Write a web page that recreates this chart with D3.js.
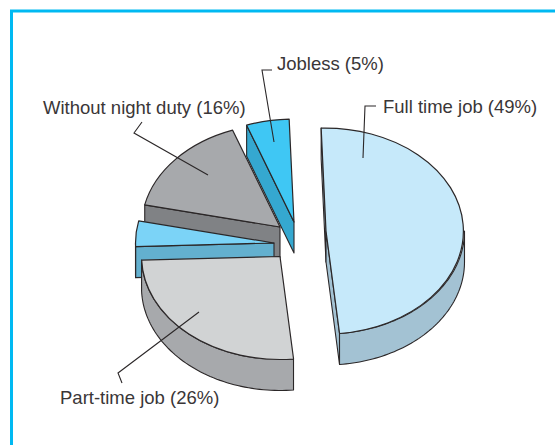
<!DOCTYPE html>
<html><head><meta charset="utf-8">
<script src="https://cdn.jsdelivr.net/npm/d3@7"></script>
<style>html,body{margin:0;padding:0;background:#fff;overflow:hidden}svg{display:block}text{font-family:"Liberation Sans",Arial,sans-serif;font-size:18.5px;fill:#3a3637}</style>
</head><body><svg id="c" width="555" height="445"></svg>
<script>
const categories = ["Full time job", "Part-time job", "Other", "Without night duty", "Jobless"];
const shares = [49, 26, 4, 16, 5];
const labels = ["Full time job (49%)", "Part-time job (26%)", "", "Without night duty (16%)", "Jobless (5%)"];
const topColors = ["#c6e9fa", "#d1d3d4", "#7bd3f7", "#a7a9ac", "#3fc7f4"];
const wallColors = ["#a3c2d3", "#a7a9ac", "#63b0cf", "#808285", "#35a8d0"];
const apexX = [326, 280, 274, 280, 294];
const apexY = [231, 256.5, 243, 227, 222];
const labelX = [383, 60, 0, 43, 277];
const labelY = [113, 404, 0, 114, 70];
const leaders = [
  [[376,106],[365,106],[363,158]],
  [[199,312],[118,373],[122,383]],
  [],
  [[142,122],[134,133],[208,175]],
  [[272,70],[262,70],[274,142]]
];
const drawOrder = [4, 3, 2, 1, 0];
const rx = 138.5, ry = 103, depth = 31, ink = "#2b2728";

const svg = d3.select("#c");
svg.append("rect").attr("x",11.5).attr("y",11).attr("width",560).attr("height",460)
  .attr("fill","#fff").attr("stroke","#00b9f2").attr("stroke-width",3);

const deg = Math.PI/180;
const pie = d3.pie().sort(null).startAngle(-2*deg).endAngle(358*deg);
const arcs = pie(shares);
const unitArc = d3.arc().innerRadius(0).outerRadius(1);
const pt = (i,a,dz=0)=>[apexX[i]+rx*Math.sin(a), apexY[i]-ry*Math.cos(a)+dz];
const line = d3.line();

function sampleAngles(a0,a1){ return d3.range(0,61).map(k=>a0+(a1-a0)*k/60); }

drawOrder.forEach(i=>{
  const d = arcs[i], g = svg.append("g");
  const drawPoly = pts => g.append("path").attr("d",line(pts)+"Z")
    .attr("fill",wallColors[i]).attr("stroke",ink).attr("stroke-width",1.1).attr("stroke-linejoin","round");
  // radial cut faces: only the one turned toward the viewer
  if(Math.sin(d.startAngle)<0){ const a=d.startAngle; drawPoly([[apexX[i],apexY[i]],pt(i,a),pt(i,a,depth),[apexX[i],apexY[i]+depth]]); }
  if(Math.sin(d.endAngle)>0){ const a=d.endAngle; drawPoly([[apexX[i],apexY[i]],pt(i,a),pt(i,a,depth),[apexX[i],apexY[i]+depth]]); }
  // outer rim (front half only)
  const a0=Math.max(d.startAngle,Math.PI/2), a1=Math.min(d.endAngle,3*Math.PI/2);
  if(a1>a0){
    const s=sampleAngles(a0,a1);
    drawPoly(s.map(a=>pt(i,a)).concat(s.slice().reverse().map(a=>pt(i,a,depth))));
  }
  // top face: the d3 arc on a unit circle, squashed into the ellipse
  g.append("path").attr("d",unitArc(d))
    .attr("transform",`translate(${apexX[i]},${apexY[i]}) scale(${rx},${ry})`)
    .attr("fill",topColors[i]).attr("stroke",ink).attr("stroke-width",1.2)
    .attr("vector-effect","non-scaling-stroke").attr("stroke-linejoin","round");
});

categories.forEach((c,i)=>{
  if(leaders[i].length) svg.append("path").attr("d",line(leaders[i])).attr("fill","none").attr("stroke",ink).attr("stroke-width",1.1);
  if(labels[i]) svg.append("text").attr("x",labelX[i]).attr("y",labelY[i]).text(labels[i]);
});
</script></body></html>
